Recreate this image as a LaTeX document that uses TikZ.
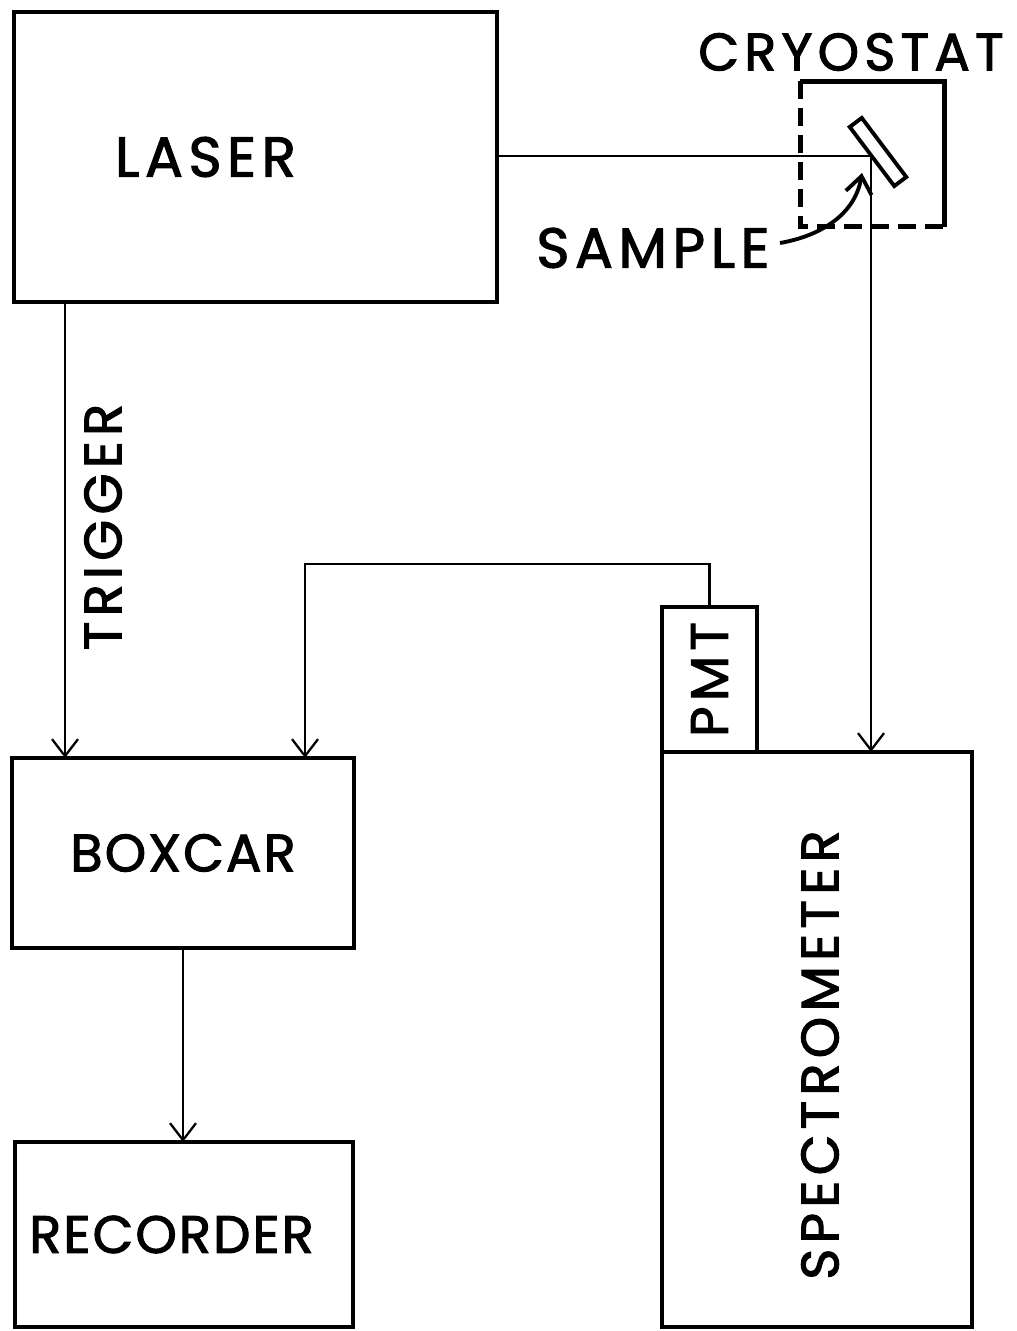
\documentclass[tikz,border=0pt]{standalone}
\usepackage{fontspec}
\setmainfont{Poppins}[LetterSpace=10,FakeBold=2]
\usetikzlibrary{arrows.meta,positioning,calc}

\begin{document}
\begin{tikzpicture}[>={Straight Barb[length=1.7mm,width=2.6mm]},
    every node/.style={font=\fontsize{15}{18}\selectfont},
    block/.style={draw, rectangle, line width=1.3pt, inner sep=0pt, outer sep=0pt},
    tight/.style={font=\fontsize{15}{18}\selectfont\addfontfeatures{LetterSpace=4}},
    large/.style={font=\fontsize{16}{19}\selectfont},
    wire/.style={line width=0.65pt}]
        \useasboundingbox (0,0) rectangle (10.16,-13.31);
        % Blocks
        \node [block, large, minimum width=4.83cm, minimum height=2.90cm] (laser) at (2.555,-1.57) {LASER\kern1cm};
        \node [block, tight, minimum width=3.42cm, minimum height=1.90cm] (boxcar) at (1.83,-8.53) {BOXCAR};
        \node [block, tight, minimum width=3.38cm, minimum height=1.85cm] (recorder) at (1.84,-12.345) {RECORDER\kern0.25cm};
        \node [block, minimum width=3.10cm, minimum height=5.75cm] (spec) at (8.17,-10.395) {};
        \node [rotate=90] (speclabel) at (8.20,-10.55) {SPECTROMETER};
        \node [block, minimum width=0.95cm, minimum height=1.45cm, anchor=south west] (pmt) at (spec.north west) {};
        \node [rotate=90] (pmtlabel) at (pmt.center) {PMT};

        % Cryostat with sample
        \node [minimum width=1.43cm, minimum height=1.44cm, inner sep=0pt] (cryo) at (8.725,-1.54) {};
        \node (cryolabel) at (8.51,-0.52) {CRYOSTAT};
        \draw [line width=1.3pt] (cryo.north west) -- (cryo.north east) -- (cryo.south east);
        \draw [line width=1.3pt, dash pattern=on 1.8mm off 0.9mm] (cryo.north west) -- (cryo.south west) -- (cryo.south east);
        \node [block, line width=1.1pt, minimum width=0.74cm, minimum height=0.15cm, rotate=-53] (sample) at (8.78,-1.52) {};
        \node [large] (samplelabel) at (6.53,-2.48) {SAMPLE};
        \coordinate (hit) at (8.71,-1.56);

        % Paths
        \draw [wire, ->] (laser.east |- hit) -- (hit) -- (hit |- spec.north);
        \draw [line width=1.1pt, ->] (7.80,-2.43) .. controls (8.2,-2.36) and (8.55,-2.15) .. (8.62,-1.73);
        \coordinate (trig) at (0.65,-5.0);
        \draw [wire, ->] (laser.south -| trig) -- (boxcar.north -| trig);
        \node [rotate=90] (triglabel) at (1.03,-5.27) {TRIGGER};
        \coordinate (tap) at (3.05,-5.64);
        \draw [wire, ->] (pmt.north) |- (tap) -- (tap |- boxcar.north);
        \draw [wire, ->] (boxcar.south) -- (boxcar.south |- recorder.north);
    \end{tikzpicture}
\end{document}
